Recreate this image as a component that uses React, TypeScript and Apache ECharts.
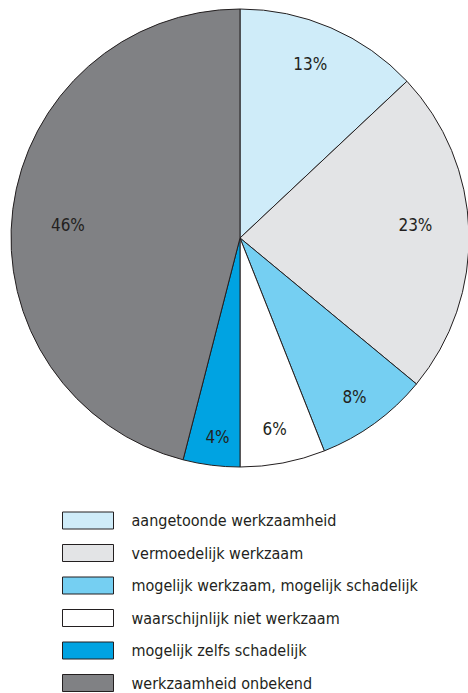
import React, { useEffect, useRef } from "react";
import * as echarts from "echarts";

const categories = [
  "aangetoonde werkzaamheid",
  "vermoedelijk werkzaam",
  "mogelijk werkzaam, mogelijk schadelijk",
  "waarschijnlijk niet werkzaam",
  "mogelijk zelfs schadelijk",
  "werkzaamheid onbekend",
];
const values = [13, 23, 8, 6, 4, 46];
const colors = ["#cfecf9", "#e3e4e6", "#75cff2", "#ffffff", "#00a3e2", "#808184"];
// small label nudges (style only)
const labelNudges: [number, number][] = [
  [-1, -9],
  [-4, -7],
  [9, 14],
  [1, 15],
  [0, 21],
  [6, 9],
];

const FONT = "'Liberation Sans Narrow', 'DejaVu Sans Condensed', 'Roboto', sans-serif";

export default function App() {
  const ref = useRef<HTMLDivElement>(null);
  useEffect(() => {
    if (!ref.current) return;
    const chart = echarts.init(ref.current, null, { renderer: "svg" });
    const data = categories.map((name, i) => ({
      name,
      value: values[i],
      itemStyle: { color: colors[i] },
    }));
    chart.setOption({
      animation: false,
      backgroundColor: "#ffffff",
      legend: {
        orient: "vertical",
        left: 62,
        top: 511,
        height: 190,
        padding: 0,
        itemWidth: 51,
        itemHeight: 17,
        itemGap: 13.5,
        icon: "rect",
        data: categories,
        itemStyle: { borderColor: "#231f20", borderWidth: 1 },
        textStyle: {
          fontFamily: FONT,
          fontSize: 16,
          lineHeight: 19,
          color: "#231f20",
          padding: [0, 0, 0, 13],
        },
        selectedMode: false,
      },
      series: [
        {
          type: "pie",
          name: "main",
          center: [240, 238],
          radius: [0, 229],
          startAngle: 90,
          clockwise: true,
          silent: true,
          data,
          itemStyle: { borderColor: "#231f20", borderWidth: 1 },
          label: { show: false },
          labelLine: { show: false },
        },
        {
          type: "pie",
          name: "labels",
          center: [240, 238],
          radius: [124, 229],
          startAngle: 90,
          clockwise: true,
          silent: true,
          data: categories.map((name, i) => ({ name: name + " ", value: values[i] })),
          itemStyle: { color: "rgba(0,0,0,0)", borderWidth: 0 },
          label: {
            show: true,
            position: "inside",
            formatter: "{c}%",
            fontFamily: FONT,
            fontSize: 17,
            color: "#231f20",
          },
          labelLayout: (params: any) => {
            const n = labelNudges[params.dataIndex] || [0, 0];
            return { dx: n[0], dy: n[1] };
          },
          labelLine: { show: false },
        },
      ],
    });
    return () => chart.dispose();
  }, []);
  return (
    <div
      ref={ref}
      style={{ position: "fixed", left: 0, top: 0, width: 468, height: 693 }}
    />
  );
}
